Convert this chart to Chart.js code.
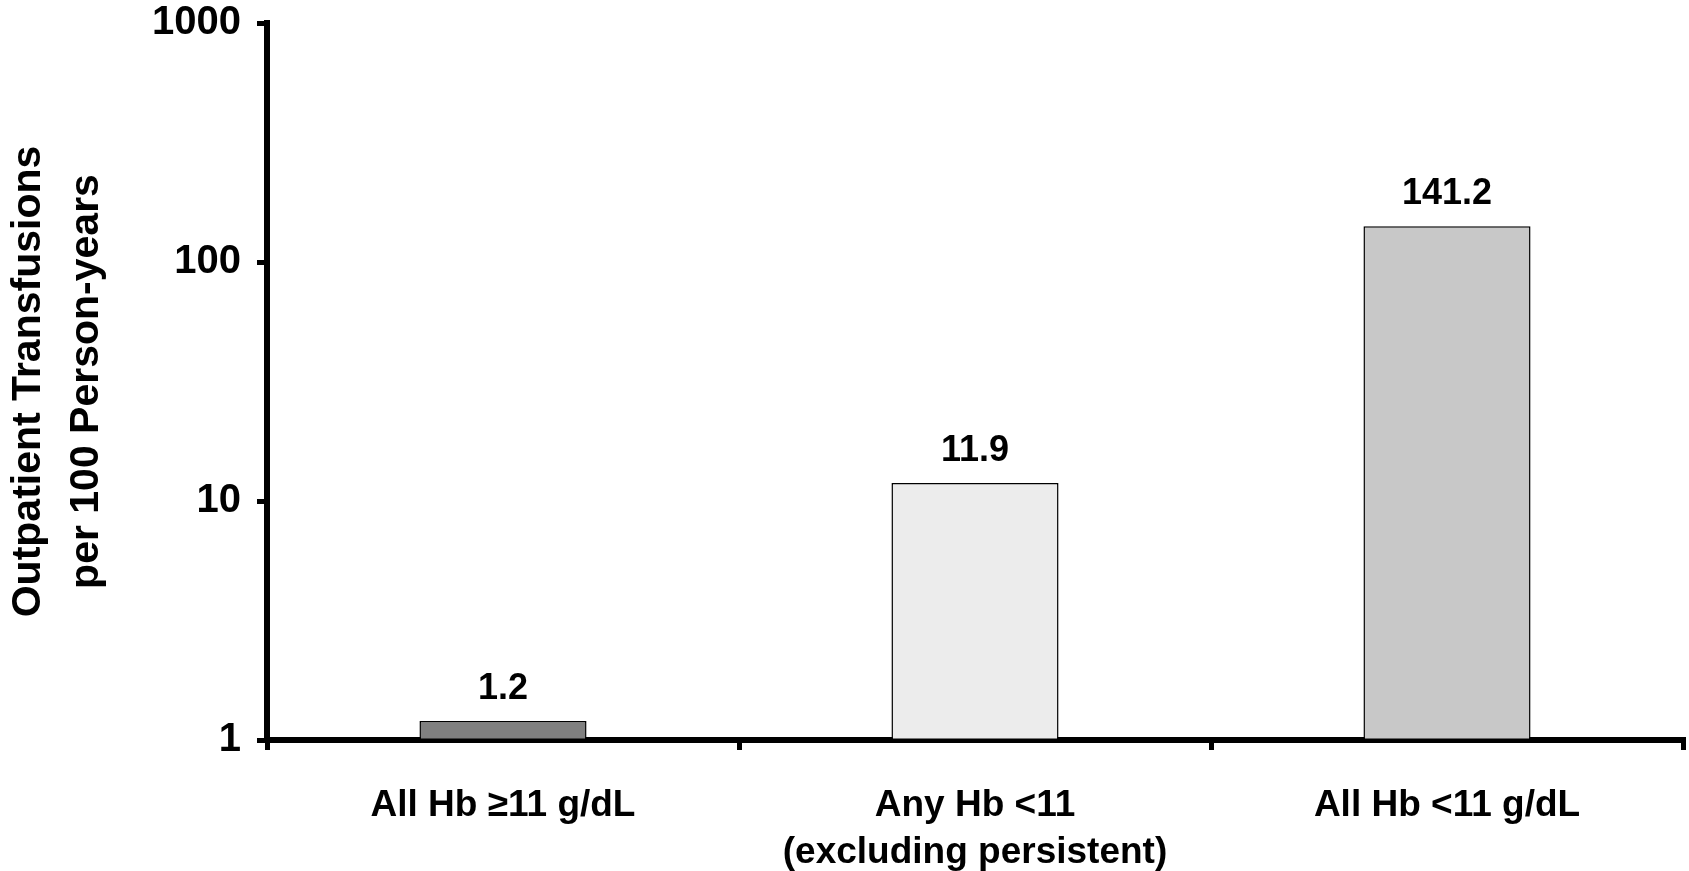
<!DOCTYPE html>
<html>
<head>
<meta charset="utf-8">
<title>Outpatient Transfusions</title>
<script src="https://cdn.jsdelivr.net/npm/chart.js@4/dist/chart.umd.min.js"></script>
<style>
  body { margin: 0; background: #fff; }
  #wrap { width: 1689px; height: 871px; }
</style>
</head>
<body>
<div id="wrap"><canvas id="rateChart" width="1689" height="871"></canvas></div>
<script>
// values
var categories = [
  ['All Hb \u226511 g/dL'],
  ['Any Hb <11', '(excluding persistent)'],
  ['All Hb <11 g/dL']
];
var rates = [1.2, 11.9, 141.2];
var yTickValues = [1, 10, 100, 1000];
var yTitle = ['Outpatient Transfusions', 'per 100 Person-years'];

var fam = '"Liberation Sans", Arial, sans-serif';

// numbers above the bars
var valueLabels = {
  id: 'valueLabels',
  afterDatasetsDraw: function(chart) {
    var ctx = chart.ctx;
    var meta = chart.getDatasetMeta(0);
    ctx.save();
    ctx.font = 'bold 36px ' + fam;
    ctx.fillStyle = '#000';
    ctx.textAlign = 'center';
    ctx.textBaseline = 'alphabetic';
    meta.data.forEach(function(bar, i) {
      ctx.fillText(rates[i].toFixed(1), bar.x, bar.y - 22);
    });
    ctx.restore();
  }
};

var ctx = document.getElementById('rateChart');
var chart = new Chart(ctx, {
  type: 'bar',
  data: {
    labels: categories,
    datasets: [{
      data: rates,
      backgroundColor: ['#808080', '#ececec', '#c8c8c8'],
      borderColor: '#000',
      borderWidth: 1.5,
      borderSkipped: false,
      categoryPercentage: 1,
      barPercentage: 0.354
    }]
  },
  options: {
    responsive: false,
    devicePixelRatio: 1,
    animation: false,
    layout: { padding: { top: 23, right: 6, left: 0, bottom: 0 } },
    plugins: {
      legend: { display: false },
      tooltip: { enabled: false }
    },
    scales: {
      x: {
        z: 1,
        grid: {
          offset: true,
          drawOnChartArea: false,
          drawTicks: true,
          tickLength: 10,
          lineWidth: 5,
          color: '#000'
        },
        border: { display: true, color: '#000', width: 6 },
        ticks: {
          color: '#000',
          padding: 32,
          maxRotation: 0,
          font: { family: fam, size: 37, weight: 'bold', lineHeight: 1.27 }
        },
        afterFit: function(s) {
          s.height = 131;
          s.paddingLeft = 0;
          s.paddingRight = 0;
        }
      },
      y: {
        type: 'logarithmic',
        z: 1,
        min: 1,
        max: 1000,
        afterBuildTicks: function(s) {
          s.ticks = yTickValues.map(function(v) { return { value: v }; });
        },
        grid: {
          drawOnChartArea: false,
          drawTicks: true,
          tickLength: 10,
          lineWidth: 5,
          color: '#000'
        },
        border: { display: true, color: '#000', width: 6 },
        ticks: {
          color: '#000',
          padding: 16,
          font: { family: fam, size: 40, weight: 'bold' },
          callback: function(v) { return String(v); }
        },
        title: {
          display: true,
          text: yTitle,
          color: '#000',
          padding: { top: 0, bottom: 0 },
          font: { family: fam, size: 41, weight: 'bold', lineHeight: 1.415 }
        },
        afterFit: function(s) {
          s.width = 267;
          s.paddingTop = 0;
          s.paddingBottom = 0;
        }
      }
    }
  },
  plugins: [valueLabels]
});
</script>
</body>
</html>
